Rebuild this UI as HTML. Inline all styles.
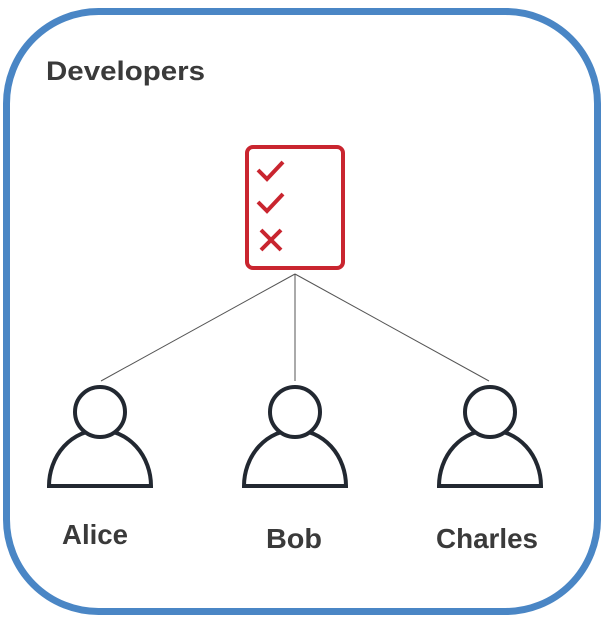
<!DOCTYPE html>
<html><head><style>
html,body{margin:0;padding:0;background:#fff;}
svg{display:block;}
text{font-family:"Liberation Sans",sans-serif;font-weight:bold;fill:#3a3a3a;}
</style></head><body>
<svg width="604" height="625" viewBox="0 0 604 625">
<rect x="6.5" y="11.5" width="591" height="600" rx="92" fill="#fff" stroke="#4a86c5" stroke-width="7"/>
<text x="46" y="80" font-size="27" textLength="159" lengthAdjust="spacingAndGlyphs">Developers</text>
<rect x="247" y="147" width="96" height="121" rx="6" fill="#fff" stroke="#c9252f" stroke-width="4"/>
<g fill="none" stroke="#c9252f" stroke-width="4">
<path d="M258,170 L267,179 L283,162"/>
<path d="M258,202 L267,211 L283,194"/>
<path d="M261,230 L281,250 M281,230 L261,250"/>
</g>
<g stroke="#555" stroke-width="1" fill="none">
<line x1="295" y1="274" x2="101" y2="381"/>
<line x1="295" y1="274" x2="295" y2="381"/>
<line x1="295" y1="274" x2="489" y2="381"/>
</g>
<g fill="#fff" stroke="#222831" stroke-width="4">
<path d="M49,486 A51,56 0 0 1 151,486 Z"/>
<circle cx="100" cy="412" r="25"/>
<path d="M244,486 A51,56 0 0 1 346,486 Z"/>
<circle cx="295" cy="412" r="25"/>
<path d="M439,486 A51,56 0 0 1 541,486 Z"/>
<circle cx="490" cy="412" r="25"/>
</g>
<text x="62" y="544" font-size="28" textLength="66" lengthAdjust="spacingAndGlyphs">Alice</text>
<text x="266" y="548" font-size="28" textLength="56" lengthAdjust="spacingAndGlyphs">Bob</text>
<text x="436" y="548" font-size="28" textLength="102" lengthAdjust="spacingAndGlyphs">Charles</text>
</svg>
</body></html>
